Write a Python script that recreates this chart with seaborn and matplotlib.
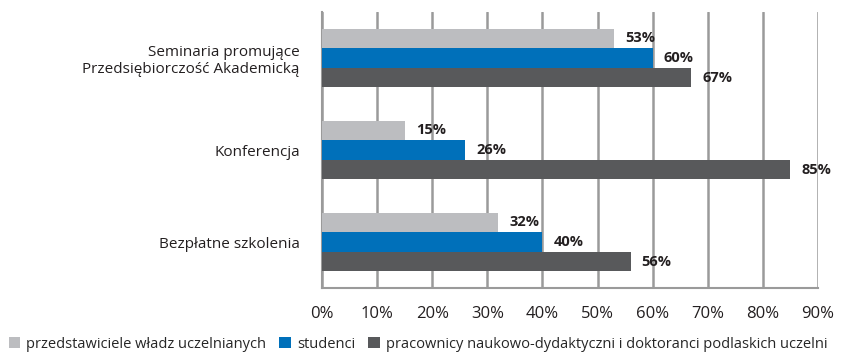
import matplotlib
matplotlib.use("Agg")
import matplotlib.pyplot as plt
from matplotlib.patches import Patch
import seaborn as sns
import pandas as pd

categories = ["Seminaria promujące\nPrzedsiębiorczość Akademicką", "Konferencja", "Bezpłatne szkolenia"]
groups = ["przedstawiciele władz uczelnianych", "studenci",
          "pracownicy naukowo-dydaktyczni i doktoranci podlaskich uczelni"]
władze = [53, 15, 32]
studenci = [60, 26, 40]
pracownicy = [67, 85, 56]
x_ticks = [0, 10, 20, 30, 40, 50, 60, 70, 80, 90]

colors = ["#bcbdc0", "#0070ba", "#58595b"]

rows = []
for series, vals in zip(groups, [władze, studenci, pracownicy]):
    for cat, v in zip(categories, vals):
        rows.append({"kategoria": cat, "grupa": series, "wartość": v})
df = pd.DataFrame(rows)

sns.set_style("white")
plt.rcParams["font.family"] = ["Open Sans", "DejaVu Sans"]

fig = plt.figure(figsize=(8.42, 3.57), dpi=100)
ax = fig.add_axes([322 / 842, 1 - 288 / 357, 496 / 842, 276 / 357])

sns.barplot(data=df, y="kategoria", x="wartość", hue="grupa", order=categories,
            hue_order=groups, palette=colors, orient="h", width=0.64,
            saturation=1, ax=ax, legend=False, zorder=3, linewidth=0)

for cont in ax.containers:
    ax.bar_label(cont, labels=[f"{int(round(b.get_width()))}%" for b in cont],
                 padding=8, fontsize=10.5, fontweight="bold", color="#231f20")

ax.set_xlim(0, 90)
ax.set_ylim(2.5, -0.5)
ax.set_xticks(x_ticks)
ax.set_xticklabels([f"{t}%" for t in x_ticks], fontsize=12, color="#231f20")
ax.set_yticks(range(len(categories)))
ax.set_yticklabels(categories, fontsize=11, color="#231f20")
ax.set_yticks([-0.5, 0.5, 1.5, 2.5], minor=True)
ax.tick_params(axis="y", which="major", length=0, pad=16)
ax.tick_params(axis="y", which="minor", length=7, width=1.5, color="#8c8c8c", direction="out")
ax.tick_params(axis="x", length=5, width=1.8, color="#9a9a9a", direction="out", pad=8)
ax.set_xlabel("")
ax.set_ylabel("")
ax.grid(axis="x", color="#9a9a9a", linewidth=1.8, zorder=0)
ax.set_axisbelow(True)
for side in ["top", "right"]:
    ax.spines[side].set_visible(False)
for side in ["left", "bottom"]:
    ax.spines[side].set_color("#9a9a9a")
    ax.spines[side].set_linewidth(1.5)

handles = [Patch(facecolor=c, edgecolor="none") for c in colors]
fig.legend(handles, groups, loc="lower left", bbox_to_anchor=(0.0, -0.01), ncol=3,
           frameon=False, fontsize=10.5, handlelength=0.8, handleheight=0.8,
           handletextpad=0.4, columnspacing=0.9, borderaxespad=0.2)

fig.savefig("out.png", dpi=100)
